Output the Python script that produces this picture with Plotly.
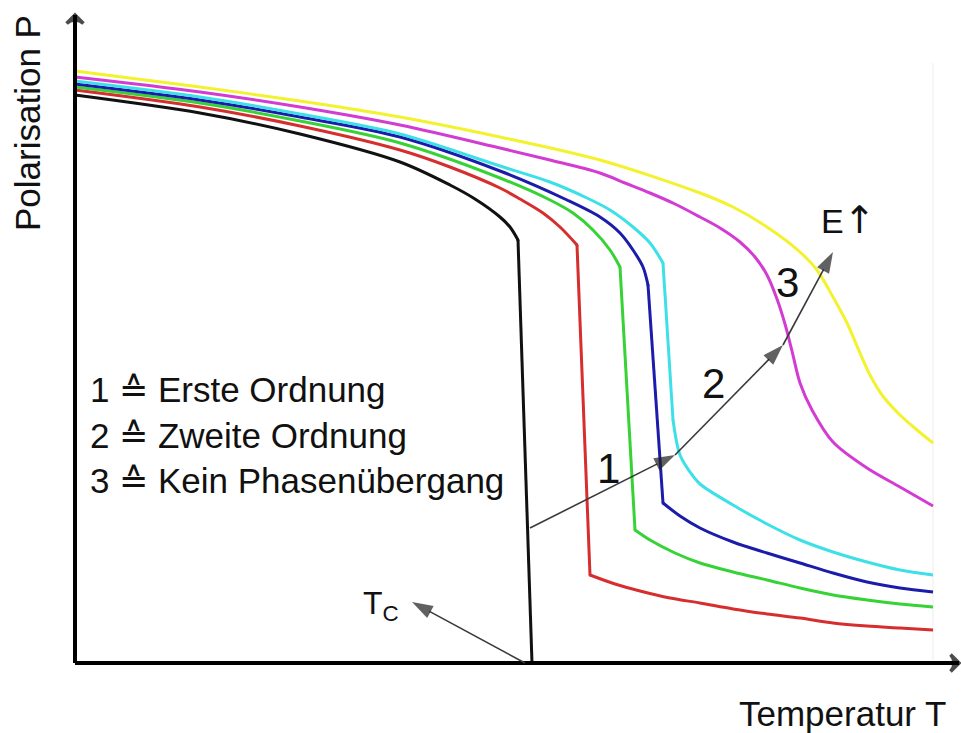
import plotly.graph_objects as go

# Temperature / polarisation samples for each curve (T, P in arbitrary units).
# *_corner lists the indices where a curve has a sharp kink.
black_T = [0, 12.5, 22.5, 32.5, 37.5, 40.0, 42.5, 43.5, 44.3, 45.7]
black_P = [56.8, 55.0, 52.9, 50.1, 47.8, 46.4, 44.6, 43.6, 42.3, 0.0]
black_corner = [8]

red_T = [0, 12.5, 22.5, 32.5, 37.5, 42.5, 44.5, 46.8, 48.5, 50.2,
         51.5, 54.0, 56.5, 59.5, 62.5, 65.8, 69.2, 72.5, 75.8, 79.2, 82.5, 85.8]
red_P = [57.3, 55.6, 53.7, 51.3, 49.6, 47.5, 46.4, 45.0, 43.6, 41.8,
         8.8, 7.9, 7.2, 6.5, 6.0, 5.4, 4.9, 4.5, 4.0, 3.7, 3.5, 3.3]
red_corner = [9, 10]

green_T = [0, 12.5, 22.5, 32.5, 42.5, 47.5, 49.8, 51.8, 53.5, 54.5,
           56.0, 57.5, 60.0, 62.5, 65.8, 69.2, 72.5, 75.8, 79.2, 82.5, 85.8]
green_P = [57.6, 56.0, 54.2, 52.0, 48.5, 46.3, 45.0, 43.3, 41.3, 39.6,
           13.3, 12.3, 11.0, 10.0, 9.1, 8.3, 7.5, 6.8, 6.3, 5.9, 5.6]
green_corner = [9, 10]

blue_T = [0, 12.5, 22.5, 32.5, 42.5, 49.2, 52.5, 54.5, 55.8, 56.8, 57.3,
          58.8, 60.5, 62.5, 65.8, 69.2, 72.5, 75.8, 79.2, 82.5, 85.8]
blue_P = [57.9, 56.3, 54.6, 52.6, 49.2, 46.3, 44.6, 43.0, 41.3, 39.6, 37.8,
          16.0, 14.7, 13.5, 12.1, 11.0, 10.0, 9.0, 8.1, 7.5, 7.1]
blue_corner = [10, 11]

cyan_T = [0, 12.5, 22.5, 32.5, 42.5, 47.5, 51.2, 53.5, 55.8, 57.5, 58.8,
          59.8, 60.5, 61.5, 62.5, 65.8, 69.2, 72.5, 75.8, 79.2, 82.5, 85.8]
cyan_P = [58.2, 56.6, 54.9, 52.9, 49.7, 48.1, 46.5, 45.3, 43.6, 42.0, 40.0,
          24.3, 20.8, 19.1, 17.9, 15.8, 13.9, 12.3, 11.1, 10.1, 9.3, 8.8]
cyan_corner = [10, 11]

magenta_T = [0, 12.5, 22.5, 32.5, 42.5, 47.5, 52.5, 55.0, 57.5, 60.0, 62.5, 64.5, 66.5, 68.0,
             69.2, 70.2, 71.0, 71.7, 72.5, 73.7, 75.8, 79.2, 82.5, 85.8]
magenta_P = [58.6, 57.1, 55.6, 53.8, 51.5, 50.3, 49.0, 48.0, 47.0, 45.9, 44.6, 43.5, 42.1, 40.6,
             38.8, 36.4, 33.9, 31.2, 28.0, 25.3, 22.1, 19.5, 17.6, 15.7]
magenta_corner = []

yellow_T = [0, 12.5, 22.5, 32.5, 42.5, 52.5, 62.5, 65.8, 69.2, 72.5, 74.2, 75.8, 77.2, 78.5,
            79.5, 80.7, 82.5, 84.2, 85.8]
yellow_P = [59.2, 57.6, 56.2, 54.6, 52.6, 50.3, 47.0, 45.6, 43.6, 41.1, 39.3, 36.6, 34.0, 31.0,
            28.8, 26.8, 24.8, 23.3, 22.0]
yellow_corner = []

curves = [
    (black_T, black_P, black_corner, "#111111"),
    (red_T, red_P, red_corner, "#d62e2e"),
    (green_T, green_P, green_corner, "#36d236"),
    (blue_T, blue_P, blue_corner, "#1c1caa"),
    (cyan_T, cyan_P, cyan_corner, "#3ee0e8"),
    (magenta_T, magenta_P, magenta_corner, "#d23cd2"),
    (yellow_T, yellow_P, yellow_corner, "#f2f22e"),
]

# Path of the field-strength arrow (E increasing) and the T_C pointer
e_path_T = [45.5, 60.0, 70.8, 75.8]
e_path_P = [13.5, 20.8, 31.8, 41.1]
tc_path_T = [45.0, 33.7]
tc_path_P = [0.0, 6.1]

legend_lines = ["1 \u2259 Erste Ordnung", "2 \u2259 Zweite Ordnung", "3 \u2259 Kein Phasen\u00fcbergang"]
step_labels = ["1", "2", "3"]
step_T = [53.3, 63.8, 71.2]
step_P = [19.5, 28.0, 38.1]

x_axis_end = 88.4
y_axis_end = 64.8

FONT = "Liberation Sans, Arial, sans-serif"
INK = "#111111"

fig = go.Figure()

# faint frame edge where the curves stop
fig.add_shape(type="line", x0=red_T[-1], x1=red_T[-1], y0=0.3, y1=60,
              line=dict(color="#f3f3f3", width=1.5), layer="below")

# each curve: smooth pieces joined at its sharp corners
for T, P, corners, col in curves:
    cuts = [0] + corners + [len(T) - 1]
    for a, b in zip(cuts[:-1], cuts[1:]):
        fig.add_trace(go.Scatter(x=T[a:b + 1], y=P[a:b + 1], mode="lines",
                                 line=dict(color=col, width=3, shape="spline", smoothing=0.9),
                                 hoverinfo="skip", showlegend=False))
    for c in corners:
        fig.add_trace(go.Scatter(x=[T[c]], y=[P[c]], mode="markers",
                                 marker=dict(color=col, size=3), hoverinfo="skip", showlegend=False))

# coordinate axes with open arrow heads
for xs, ys in [([0, 0], [0, y_axis_end]), ([0, x_axis_end], [0, 0])]:
    fig.add_trace(go.Scatter(
        x=xs, y=ys, mode="lines+markers",
        line=dict(color="#000000", width=4),
        marker=dict(symbol="arrow-wide-open", size=[0, 12], angleref="previous",
                    color="#000000", line=dict(color="#000000", width=3.5)),
        hoverinfo="skip", showlegend=False))

# thin pointer arrows with filled heads
for xs, ys in [(e_path_T, e_path_P), (tc_path_T, tc_path_P)]:
    fig.add_trace(go.Scatter(
        x=xs, y=ys, mode="lines+markers",
        line=dict(color="#3a3a3a", width=1.6),
        marker=dict(symbol="arrow", size=[0] + [22] * (len(xs) - 1), angleref="previous",
                    color="#1e1e1e", line=dict(width=0)),
        hoverinfo="skip", showlegend=False))

ann = []
ann.append(dict(x=1.3, y=22.8, xref="x", yref="y", text="<br>".join(legend_lines),
                showarrow=False, xanchor="left", yanchor="middle", align="left",
                font=dict(family=FONT, size=35, color=INK)))
for lab, tx, py in zip(step_labels, step_T, step_P):
    ann.append(dict(x=tx, y=py, xref="x", yref="y", text=lab, showarrow=False,
                    xanchor="center", yanchor="middle",
                    font=dict(family=FONT, size=42, color=INK)))
ann.append(dict(x=77.3, y=44.3, xref="x", yref="y",
                text="E<span style='font-family:DejaVu Sans;font-size:38px'>\u2191</span>",
                showarrow=False, xanchor="center", yanchor="middle",
                font=dict(family=FONT, size=34, color=INK)))
ann.append(dict(x=30.6, y=5.8, xref="x", yref="y",
                text="T<sub>C</sub>", showarrow=False, xanchor="center", yanchor="middle",
                font=dict(family=FONT, size=32, color=INK)))
ann.append(dict(x=-4.8, y=54.0, xref="x", yref="y", text="Polarisation P", textangle=-90,
                showarrow=False, xanchor="center", yanchor="middle",
                font=dict(family=FONT, size=35, color=INK)))
ann.append(dict(x=76.8, y=-5.0, xref="x", yref="y", text="Temperatur T", showarrow=False,
                xanchor="center", yanchor="middle",
                font=dict(family=FONT, size=35, color=INK)))

fig.update_layout(
    width=961, height=733,
    margin=dict(l=0, r=0, t=0, b=0),
    paper_bgcolor="white", plot_bgcolor="white",
    xaxis=dict(range=[-7.5, 88.6], visible=False, fixedrange=True),
    yaxis=dict(range=[-7.0, 66.3], visible=False, fixedrange=True),
    annotations=ann,
)

fig.write_html("out.html")
